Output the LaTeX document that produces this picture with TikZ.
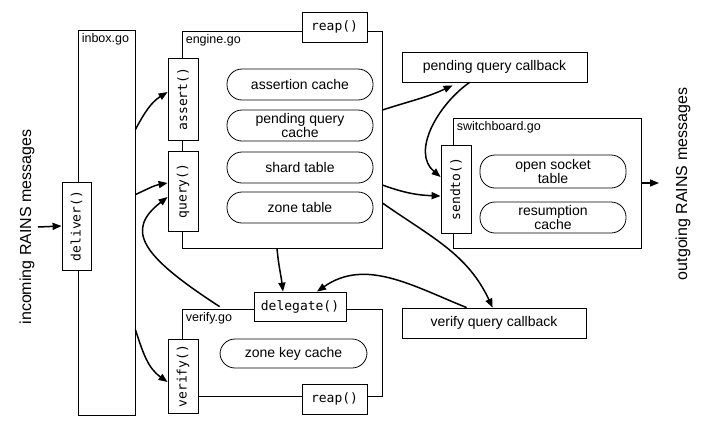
\documentclass[tikz,border=0pt]{standalone}
\usepackage{fontspec}
\setmainfont{Liberation Sans}
\setmonofont{DejaVu Sans Mono}
\usetikzlibrary{arrows.meta}
\begin{document}
\begin{tikzpicture}[x=1pt,y=1pt,
  module/.style={draw, line width=0.8pt, fill=white, inner sep=0pt},
  modlabel/.style={anchor=north west, inner sep=4pt, font=\fontsize{12.5}{14}\selectfont},
  fn/.style={draw, line width=0.8pt, fill=white, inner sep=0pt, font=\ttfamily\fontsize{13}{15}\selectfont},
  vfn/.style={fn, rotate=90},
  store/.style={draw, line width=0.8pt, rounded corners=15pt, inner sep=0pt, align=center,
    font=\fontsize{14}{14.5}\selectfont},
  cb/.style={draw, line width=0.8pt, fill=white, inner sep=0pt, font=\fontsize{14}{16}\selectfont},
  side/.style={rotate=90, inner sep=0pt, font=\fontsize{16}{18}\selectfont},
  flow/.style={-{Triangle[length=9pt,width=7pt]}, line width=1.5pt}
]
\useasboundingbox (0,0) rectangle (703,-426);

% modules
\node[module, minimum width=57, minimum height=385] (inbox) at (106.5,-222.5) {};
\node[modlabel] at (inbox.north west) {inbox.go};
\node[module, minimum width=200, minimum height=217] (engine) at (282,-139.5) {};
\node[modlabel] at (engine.north west) {engine.go};
\node[module, minimum width=188, minimum height=130] (switch) at (547,-183) {};
\node[modlabel] at (switch.north west) {switchboard.go};
\node[module, minimum width=200, minimum height=87] (verifygo) at (282,-352.5) {};
\node[modlabel] at (verifygo.north west) {verify.go};

% function boxes
\node[vfn, minimum width=88, minimum height=29] (deliver) at (76.5,-226) {deliver()};
\node[vfn, minimum width=82, minimum height=30] (assert) at (183,-99) {assert()};
\node[vfn, minimum width=80, minimum height=30] (query) at (183,-191) {query()};
\node[vfn, minimum width=88, minimum height=30] (sendto) at (456,-189) {sendto()};
\node[vfn, minimum width=74, minimum height=30] (verify) at (183,-376) {verify()};
\node[fn, minimum width=65, minimum height=30] (reapA) at (334.5,-27) {reap()};
\node[fn, minimum width=65, minimum height=30] (reapB) at (334.5,-399) {reap()};
\node[fn, minimum width=92, minimum height=29] (delegate) at (300,-306.5) {delegate()};

% stores
\node[store, minimum width=146, minimum height=31] (acache) at (300,-84.5) {assertion cache};
\node[store, minimum width=146, minimum height=31] (pqcache) at (300,-125.5) {pending query\\cache};
\node[store, minimum width=146, minimum height=31] (shard) at (300,-167.5) {shard table};
\node[store, minimum width=146, minimum height=31] (zone) at (300,-207.5) {zone table};
\node[store, minimum width=146, minimum height=33] (socket) at (553,-171.5) {open socket\\table};
\node[store, minimum width=146, minimum height=31] (resume) at (553,-217.5) {resumption\\cache};
\node[store, minimum width=147, minimum height=29] (zkcache) at (293.5,-353.5) {zone key cache};

% callbacks
\node[cb, minimum width=185, minimum height=30] (pqcb) at (494.5,-67) {pending query callback};
\node[cb, minimum width=184, minimum height=30] (vqcb) at (494,-323) {verify query callback};

% side labels
\node[side] (incoming) at (27,-227) {incoming RAINS messages};
\node[side] (outgoing) at (683,-184) {outgoing RAINS messages};
\coordinate (inend) at (38,-227);
\coordinate (outend) at (659,-183);

% connectors (for the rotated boxes, .north is the left side)
\draw[flow] (inend) -- (deliver.north);
\draw[flow] (switch.east) -- (outend);
\draw[flow] ([yshift=-100pt]inbox.north east) to[out=62,in=212] ([yshift=7pt]assert.north);
\draw[flow] ([yshift=-165pt]inbox.north east) to[out=25,in=190] ([yshift=8pt]query.north);
\draw[flow] ([yshift=-300pt]inbox.north east) to[out=-72,in=145] ([yshift=-6pt]verify.north);
\draw[flow] ([xshift=38pt,yshift=2pt]verifygo.north west) .. controls (140,-255) and (125,-230) .. ([yshift=-6pt]query.north);
\draw[flow] ([yshift=29.5pt]engine.east) to[out=18,in=205] ([xshift=51pt,yshift=-3pt]pqcb.south west);
\draw[flow] ([xshift=68pt]pqcb.south west) to[out=215,in=140] ([yshift=12pt]sendto.north);
\draw[flow] ([yshift=-45.5pt]engine.east) to[out=-20,in=178] ([yshift=-7pt]sendto.north);
\draw[flow] ([yshift=-63.5pt]engine.east) to[out=-35,in=115] ([xshift=91pt]vqcb.north west);
\draw[flow] ([xshift=-5pt]engine.south) to[out=-85,in=97] ([xshift=-17pt]delegate.north);
\draw[flow] ([xshift=65pt]vqcb.north west) to[out=158,in=35] ([xshift=17pt]delegate.north);
\end{tikzpicture}
\end{document}
